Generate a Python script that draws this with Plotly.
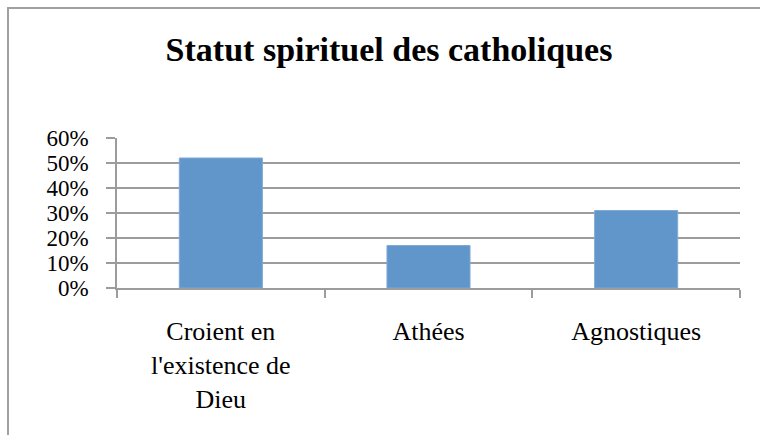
import plotly.graph_objects as go

categories = ["Croient en<br>l'existence de<br>Dieu", "Athées", "Agnostiques"]
values = [0.52, 0.17, 0.31]
y_ticks = [0, 0.1, 0.2, 0.3, 0.4, 0.5, 0.6]
y_tick_labels = ["0%", "10%", "20%", "30%", "40%", "50%", "60%"]
title_text = "Statut spirituel des catholiques"

W, H = 760, 435
L, R, T, B = 117, 20, 137.5, 147
pw = W - L - R
ph = H - T - B

def px_x(px):
    return (px - L) / pw

def px_y(py):
    return (H - B - py) / ph

fig = go.Figure(go.Bar(
    x=categories, y=values,
    marker=dict(color="#6096C9", line=dict(color="#7FA9D6", width=1)),
    width=0.4,
))

grid = "#9c9c9c"
fig.update_layout(
    width=W, height=H,
    margin=dict(l=L, r=R, t=T, b=B),
    paper_bgcolor="white", plot_bgcolor="white",
    showlegend=False,
    title=dict(text="<b>" + title_text + "</b>", x=389 / W, xanchor="center",
               xref="container", yref="container", y=1 - 49 / H, yanchor="middle",
               font=dict(family="Liberation Serif", size=34, color="black")),
    xaxis=dict(
        type="category", tickson="boundaries", ticks="outside", ticklen=8,
        tickcolor=grid, tickwidth=1.5, showline=True, linecolor=grid, linewidth=1.5,
        showgrid=False, ticklabelstandoff=19,
        tickfont=dict(family="Liberation Serif", size=26, color="black"),
    ),
    yaxis=dict(
        range=[0, 0.6], tickvals=y_ticks, ticktext=y_tick_labels,
        ticks="outside", ticklen=9, tickcolor=grid, tickwidth=1.5,
        showline=True, linecolor=grid, linewidth=1.5,
        showgrid=True, gridcolor=grid, gridwidth=1.5, zeroline=False,
        ticklabelstandoff=13,
        tickfont=dict(family="Liberation Serif", size=23, color="black"),
    ),
    shapes=[dict(type="rect", xref="paper", yref="paper",
                 x0=px_x(8), x1=px_x(763), y0=px_y(440), y1=px_y(7),
                 line=dict(color="#a0a0a0", width=2), fillcolor="rgba(0,0,0,0)", layer="below")],
)

fig.write_html("out.html", config={"displayModeBar": False},
               post_script="document.body.style.margin='0';")
